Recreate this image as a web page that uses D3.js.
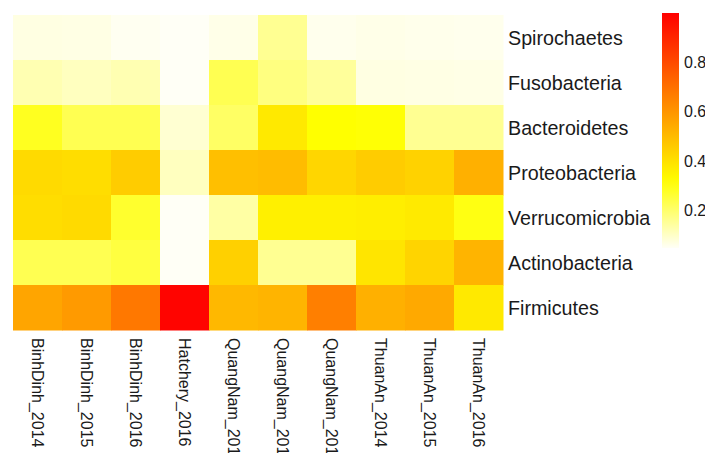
<!DOCTYPE html>
<html>
<head>
<meta charset="utf-8">
<script src="https://cdn.jsdelivr.net/npm/d3@7"></script>
<style>
  html, body { margin: 0; padding: 0; background: #ffffff; }
  svg { display: block; }
  text { font-family: "Liberation Sans", Arial, Helvetica, sans-serif; fill: #1a1a1a; }
</style>
</head>
<body>
<svg id="chart" width="705" height="453"></svg>
<script>
// ---- data ----
const samples = ["BinhDinh_2014", "BinhDinh_2015", "BinhDinh_2016", "Hatchery_2016",
                 "QuangNam_2014", "QuangNam_2015", "QuangNam_2016",
                 "ThuanAn_2014", "ThuanAn_2015", "ThuanAn_2016"];
const phyla = ["Spirochaetes", "Fusobacteria", "Bacteroidetes", "Proteobacteria",
               "Verrucomicrobia", "Actinobacteria", "Firmicutes"];
const spirochaetes    = [0.072, 0.070, 0.055, 0.050, 0.065, 0.160, 0.060, 0.065, 0.062, 0.060];
const fusobacteria    = [0.125, 0.110, 0.125, 0.045, 0.230, 0.180, 0.150, 0.072, 0.070, 0.068];
const bacteroidetes   = [0.285, 0.230, 0.230, 0.090, 0.210, 0.380, 0.320, 0.315, 0.160, 0.160];
const proteobacteria  = [0.420, 0.410, 0.455, 0.110, 0.490, 0.500, 0.430, 0.455, 0.440, 0.530];
const verrucomicrobia = [0.410, 0.420, 0.270, 0.050, 0.140, 0.360, 0.360, 0.365, 0.375, 0.300];
const actinobacteria  = [0.230, 0.230, 0.250, 0.050, 0.445, 0.160, 0.160, 0.390, 0.435, 0.520];
const firmicutes      = [0.560, 0.590, 0.680, 0.990, 0.510, 0.520, 0.660, 0.530, 0.550, 0.380];
const rowValues = [spirochaetes, fusobacteria, bacteroidetes, proteobacteria,
                   verrucomicrobia, actinobacteria, firmicutes];
const legendTicks = [0.2, 0.4, 0.6, 0.8];

// ---- layout ----
const svg = d3.select("#chart");
const mLeft = 13, mRight = 503, mTop = 15, mBottom = 330;

const x = d3.scaleBand().domain(samples).range([mLeft, mRight]).padding(0);
const y = d3.scaleBand().domain(phyla).range([mTop, mBottom]).padding(0);

const color = d3.scaleLinear()
  .domain([0.05, 0.32, 1.0])
  .range(["#FFFFF6", "#FFFF00", "#FF0000"])
  .clamp(true);

const cells = [];
phyla.forEach((p, i) => samples.forEach((s, j) => cells.push({ p, s, v: rowValues[i][j] })));

svg.append("g").selectAll("rect")
  .data(cells).join("rect")
  .attr("x", d => x(d.s))
  .attr("y", d => y(d.p))
  .attr("width", x.bandwidth() + 0.5)
  .attr("height", y.bandwidth() + 0.5)
  .attr("fill", d => color(d.v));

// row labels
svg.append("g").selectAll("text")
  .data(phyla).join("text")
  .attr("x", mRight + 5)
  .attr("y", d => y(d) + y.bandwidth() / 2)
  .attr("dominant-baseline", "central")
  .style("font-size", "19.7px")
  .text(d => d);

// column labels (rotated, reading downward)
svg.append("g").selectAll("text")
  .data(samples).join("text")
  .attr("transform", d => `translate(${x(d) + x.bandwidth() / 2},${mBottom + 8}) rotate(90)`)
  .attr("dominant-baseline", "central")
  .attr("text-anchor", "start")
  .style("font-size", "16px")
  .text(d => d);

// ---- legend ----
const ly = d3.scaleLinear().domain([0.05, 1.0]).range([248, 13]);
const defs = svg.append("defs");
const grad = defs.append("linearGradient")
  .attr("id", "lg").attr("x1", 0).attr("y1", 1).attr("x2", 0).attr("y2", 0);
const stops = d3.range(0, 1.0001, 0.05).map(t => 0.05 + t * 0.95);
grad.selectAll("stop").data(stops).join("stop")
  .attr("offset", d => (d - 0.05) / 0.95)
  .attr("stop-color", d => color(d));

svg.append("rect")
  .attr("x", 662).attr("y", ly(1.0))
  .attr("width", 17).attr("height", ly(0.05) - ly(1.0))
  .attr("fill", "url(#lg)");

svg.append("g").selectAll("text")
  .data(legendTicks).join("text")
  .attr("x", 684)
  .attr("y", d => ly(d))
  .attr("dominant-baseline", "central")
  .style("font-size", "16px")
  .text(d => d3.format(".1f")(d));
</script>
</body>
</html>
